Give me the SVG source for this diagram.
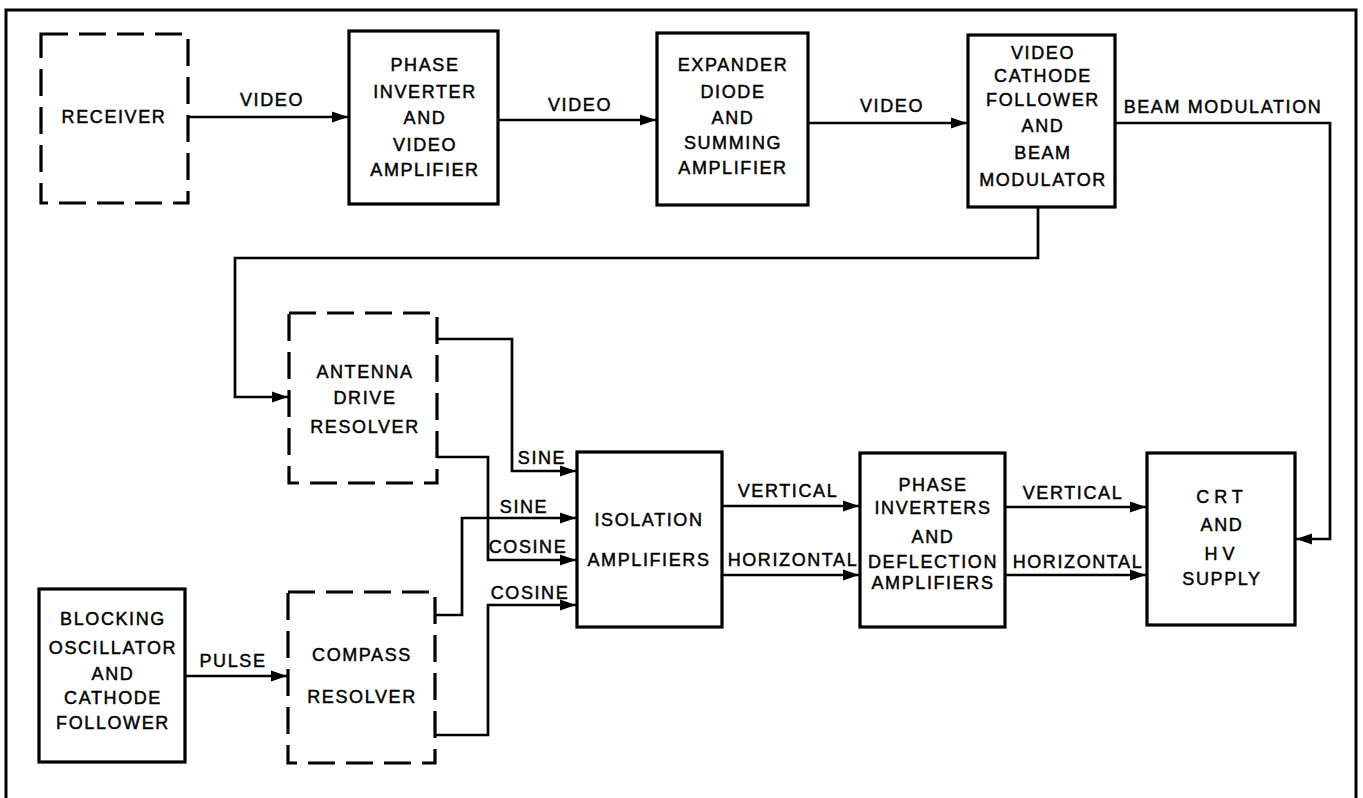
<svg xmlns="http://www.w3.org/2000/svg" width="1363" height="798" viewBox="0 0 1363 798">
<style>
.box{fill:#fff;stroke:#000;stroke-width:3.2}
.dbox{fill:#fff;stroke:#000;stroke-width:3.2;stroke-dasharray:27 11}
.wire{fill:none;stroke:#000;stroke-width:2.7}
text{font-family:"Liberation Sans","DejaVu Sans",Arial,sans-serif;font-size:18px;letter-spacing:1.6px;fill:#000;stroke:#000;stroke-width:0.45;text-anchor:middle}
</style>
<defs>
<marker id="ah" markerUnits="userSpaceOnUse" markerWidth="18" markerHeight="14" refX="16" refY="7" orient="auto">
<path d="M0,1.5 L16,7 L0,12.5 Z" fill="#000"/>
</marker>
</defs>
<rect width="1363" height="798" fill="#fff"/>
<path d="M6,798 V10 H1356 V798" fill="none" stroke="#000" stroke-width="3"/>

<g id="connectors">
<path class="wire" d="M188,117 H348" marker-end="url(#ah)"/>
<path class="wire" d="M498,120 H656" marker-end="url(#ah)"/>
<path class="wire" d="M808,123 H967" marker-end="url(#ah)"/>
<path class="wire" d="M1115,123 H1330 V539 H1296" marker-end="url(#ah)"/>
<path class="wire" d="M1038,207 V258 H235 V397 H288" marker-end="url(#ah)"/>
<path class="wire" d="M437,339 H512 V471 H576" marker-end="url(#ah)"/>
<path class="wire" d="M437,457 H488 V560 H576" marker-end="url(#ah)"/>
<path class="wire" d="M435,615 H462 V518 H576" marker-end="url(#ah)"/>
<path class="wire" d="M435,735 H488 V605 H576" marker-end="url(#ah)"/>
<path class="wire" d="M185,676 H287" marker-end="url(#ah)"/>
<path class="wire" d="M722,506 H859" marker-end="url(#ah)"/>
<path class="wire" d="M722,575 H859" marker-end="url(#ah)"/>
<path class="wire" d="M1005,507 H1146" marker-end="url(#ah)"/>
<path class="wire" d="M1005,575 H1146" marker-end="url(#ah)"/>
<text x="272" y="106">VIDEO</text>
<text x="580" y="111">VIDEO</text>
<text x="892" y="112">VIDEO</text>
<text x="1223" y="113">BEAM MODULATION</text>
<text x="542" y="464">SINE</text>
<text x="524" y="513">SINE</text>
<text x="528" y="553">COSINE</text>
<text x="530" y="599">COSINE</text>
<text x="233" y="667">PULSE</text>
<text x="788" y="497">VERTICAL</text>
<text x="793" y="566">HORIZONTAL</text>
<text x="1073" y="499">VERTICAL</text>
<text x="1078" y="568">HORIZONTAL</text>
</g>

<g id="receiver">
<rect class="dbox" x="41" y="34" width="147" height="169"/>
<text x="114" y="123">RECEIVER</text>
</g>
<g id="phase-inverter">
<rect class="box" x="349" y="31" width="149" height="173"/>
<text x="425" y="71">PHASE</text>
<text x="425" y="98">INVERTER</text>
<text x="425" y="124">AND</text>
<text x="425" y="151">VIDEO</text>
<text x="425" y="176">AMPLIFIER</text>
</g>
<g id="expander">
<rect class="box" x="657" y="33" width="151" height="172"/>
<text x="733" y="71">EXPANDER</text>
<text x="733" y="98">DIODE</text>
<text x="733" y="124">AND</text>
<text x="733" y="149">SUMMING</text>
<text x="733" y="174">AMPLIFIER</text>
</g>
<g id="video-cathode">
<rect class="box" x="968" y="35" width="147" height="172"/>
<text x="1043" y="59">VIDEO</text>
<text x="1043" y="82">CATHODE</text>
<text x="1043" y="106">FOLLOWER</text>
<text x="1043" y="132">AND</text>
<text x="1043" y="159">BEAM</text>
<text x="1043" y="186">MODULATOR</text>
</g>
<g id="antenna-resolver">
<rect class="dbox" x="289" y="313" width="148" height="170"/>
<text x="365" y="378">ANTENNA</text>
<text x="365" y="404">DRIVE</text>
<text x="365" y="433">RESOLVER</text>
</g>
<g id="isolation">
<rect class="box" x="577" y="452" width="145" height="175"/>
<text x="649" y="526">ISOLATION</text>
<text x="649" y="566">AMPLIFIERS</text>
</g>
<g id="phase-inverters">
<rect class="box" x="860" y="453" width="145" height="174"/>
<text x="933" y="491">PHASE</text>
<text x="933" y="514">INVERTERS</text>
<text x="933" y="543">AND</text>
<text x="933" y="568">DEFLECTION</text>
<text x="933" y="589">AMPLIFIERS</text>
</g>
<g id="crt">
<rect class="box" x="1147" y="453" width="148" height="172"/>
<text x="1222" y="503" style="letter-spacing:5px">CRT</text>
<text x="1222" y="531">AND</text>
<text x="1222" y="560" style="letter-spacing:5px">HV</text>
<text x="1222" y="585">SUPPLY</text>
</g>
<g id="blocking-oscillator">
<rect class="box" x="39" y="589" width="146" height="173"/>
<text x="113" y="625">BLOCKING</text>
<text x="113" y="654">OSCILLATOR</text>
<text x="113" y="680">AND</text>
<text x="113" y="704">CATHODE</text>
<text x="113" y="729">FOLLOWER</text>
</g>
<g id="compass-resolver">
<rect class="dbox" x="288" y="592" width="147" height="171"/>
<text x="362" y="661">COMPASS</text>
<text x="362" y="703">RESOLVER</text>
</g>
</svg>
